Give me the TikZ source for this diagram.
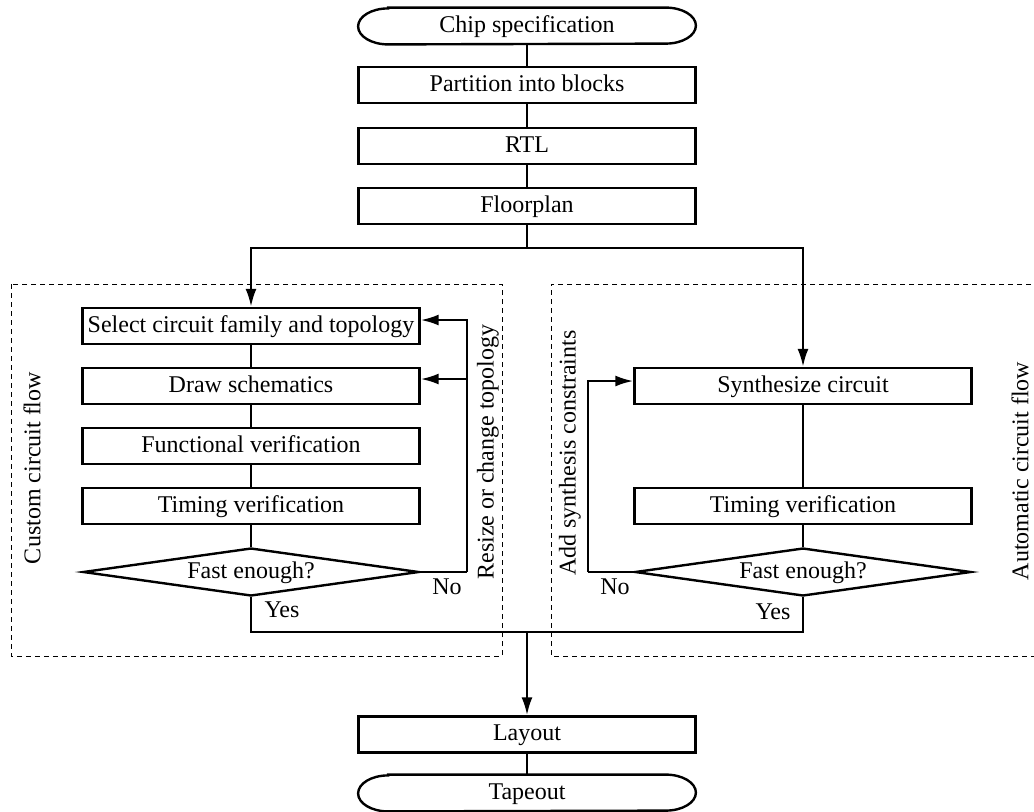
\documentclass[tikz,border=0pt]{standalone}
\usepackage{fontspec}
\setmainfont{Liberation Serif}
\usetikzlibrary{arrows.meta,shapes.geometric}

\begin{document}
\begin{tikzpicture}[x=0.5pt, y=-0.5pt,
        font=\fontsize{12}{14}\selectfont,
        flowline/.style={black, line width=1.2pt},
        flowarrow/.style={flowline, -{Latex[length=9pt,width=5.5pt]}},
        stepbox/.style={draw, flowline, rectangle, minimum width=168.5pt, minimum height=18pt, inner sep=0pt, text height=8.5pt, text depth=2.5pt},
        termbox/.style={rectangle, minimum width=168.5pt, minimum height=18pt, inner sep=0pt, text height=8.5pt, text depth=2.5pt},
        decision/.style={draw, flowline, diamond, aspect=7, minimum width=168pt, minimum height=24pt, inner sep=0pt, text height=8.5pt, text depth=2.5pt},
        region/.style={black, line width=0.5pt, dash pattern=on 2.5pt off 2pt},
        sidelabel/.style={rotate=90, inner sep=0pt}]
    \useasboundingbox (0,0) rectangle (1034,811);

    % dashed regions
    \draw[region] (11,284) rectangle (502,656);
    \draw[region] (1040,284) -- (551,284) -- (551,656) -- (1040,656);

    % main column
    \node[termbox] (chip) at (527,26) {Chip specification};
    \node[stepbox] (part) at (527,85) {Partition into blocks};
    \node[stepbox] (rtl) at (527,146) {RTL};
    \node[stepbox] (floor) at (527,206) {Floorplan};

    % custom flow
    \node[stepbox] (sel) at (251,326) {Select circuit family and topology};
    \node[stepbox] (schem) at (251,386) {Draw schematics};
    \node[stepbox] (func) at (251,446) {Functional verification};
    \node[stepbox] (timL) at (251,506) {Timing verification};
    \node[decision] (fastL) at (251,572) {Fast enough?};

    % automatic flow
    \node[stepbox] (syn) at (803,386) {Synthesize circuit};
    \node[stepbox] (timR) at (803,506) {Timing verification};
    \node[decision] (fastR) at (803,572) {Fast enough?};

    \node[stepbox] (layout) at (527,734.5) {Layout};
    \node[termbox] (tape) at (527,793) {Tapeout};

    % terminal outlines
    \foreach \n in {chip,tape}
        \draw[flowline] ([xshift=15pt]\n.north west) -- ([xshift=-15pt]\n.north east)
            arc[start angle=90, end angle=-90, x radius=15pt, y radius=9pt]
            -- ([xshift=15pt]\n.south west)
            arc[start angle=270, end angle=90, x radius=15pt, y radius=9pt] -- cycle;

    \coordinate (split) at (527,248);
    \coordinate (join) at (527,632);
    \coordinate (loopL) at (467,572);
    \coordinate (loopR) at (588,572);

    \draw[flowline] (chip) -- (part);
    \draw[flowline] (part) -- (rtl);
    \draw[flowline] (rtl) -- (floor);
    \draw[flowline] (floor) -- (split);
    \draw[flowarrow] (split) -| (sel);
    \draw[flowarrow] (split) -| (syn);

    \draw[flowline] (sel) -- (schem);
    \draw[flowline] (schem) -- (func);
    \draw[flowline] (func) -- (timL);
    \draw[flowline] (timL) -- (fastL);
    \draw[flowline] (fastL.east) -- (loopL);
    \draw[flowarrow] (loopL) |- ([yshift=3pt]sel.east);
    \draw[flowarrow] (loopL |- schem.east) ++(0,-7) -- ([yshift=3.5pt]schem.east);

    \draw[flowline] (syn) -- (timR);
    \draw[flowline] (timR) -- (fastR);
    \draw[flowline] (fastR.west) -- (loopR);
    \draw[flowarrow] (loopR) |- ([yshift=2.5pt]syn.west);

    \draw[flowline] (fastL.south) |- (join);
    \draw[flowline] (fastR.south) |- (join);
    \draw[flowarrow] (join) -- (layout);
    \draw[flowline] (layout) -- (tape);

    % labels
    \node (noL) at (447,587) {No};
    \node (yesL) at (282,610) {Yes};
    \node (noR) at (615,587) {No};
    \node (yesR) at (773,612) {Yes};
    \node[sidelabel] (custom) at (32,468) {Custom circuit flow};
    \node[sidelabel] (resize) at (488,452) {Resize or change topology};
    \node[sidelabel] (addsyn) at (570,453) {Add synthesis constraints};
    \node[sidelabel] (auto) at (1020,471) {Automatic circuit flow};
\end{tikzpicture}
\end{document}
